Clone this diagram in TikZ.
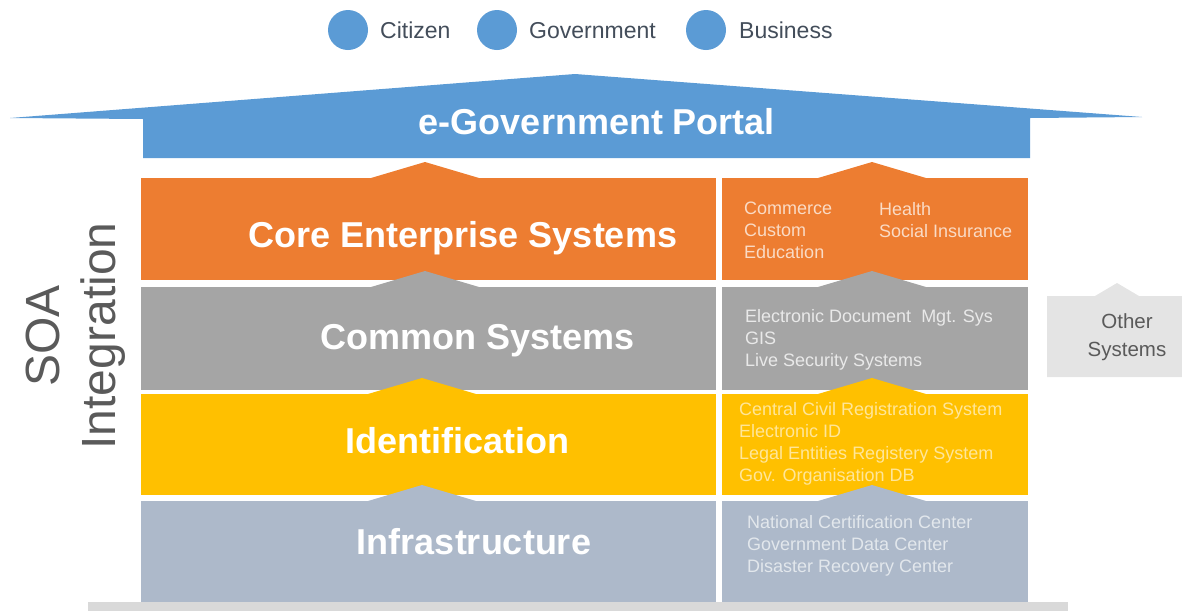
\documentclass[tikz,border=0pt]{standalone}
\usepackage{fontspec}
\setmainfont{Liberation Sans}
\usetikzlibrary{positioning,calc}
\definecolor{portalclr}{HTML}{5B9BD5}
\definecolor{coreclr}{HTML}{ED7D31}
\definecolor{commonclr}{HTML}{A5A5A5}
\definecolor{identclr}{HTML}{FFC000}
\definecolor{infraclr}{HTML}{ADB9CA}
\definecolor{barclr}{HTML}{D9D9D9}
\definecolor{otherclr}{HTML}{E4E4E4}
\definecolor{lblclr}{HTML}{434D5A}
\definecolor{soaclr}{HTML}{5A5A5A}

\begin{document}
\begin{tikzpicture}[x=1pt, y=-1pt,
  layer/.style={anchor=north west, inner sep=0pt, outer sep=0pt},
  bigtxt/.style={anchor=base, font=\fontsize{36}{40}\selectfont\bfseries, text=white},
  paneltxt/.style={anchor=north west, align=left, inner sep=0pt,
                   font=\fontsize{18}{22}\selectfont},
  actor/.style={circle, fill=portalclr, minimum size=40pt, inner sep=0pt},
  actlbl/.style={anchor=base west, inner sep=0pt,
                 font=\fontsize{23}{26}\selectfont, text=lblclr},
]
  \useasboundingbox (0,0) rectangle (1182,611);

  % Actors on top
  \node[actor] (cit) at (348,30) {};
  \node[actor] (gov) at (497,30) {};
  \node[actor] (bus) at (706,30) {};
  \node[actlbl] (citl) at (380,38) {Citizen};
  \node[actlbl] (govl) at (529,38) {Government};
  \node[actlbl] (busl) at (739,38) {Business};

  % Portal roof
  \fill[portalclr] (10,118) -- (575,74) -- (1142,117) -- (1030,118)
    -- (1030,158) -- (143,158) -- (143,119) -- cycle;
  \node[bigtxt] (portal) at (597,134) {e-Government Portal};

  % Core enterprise systems
  \node[layer, fill=coreclr, minimum width=575, minimum height=102] (coreL) at (141,178) {};
  \node[layer, fill=coreclr, minimum width=306, minimum height=102] (coreR) at (722,178) {};
  \fill[coreclr] (371,178) -- (425,162) -- (479,178) -- cycle;
  \fill[coreclr] (818,178) -- (872,162) -- (926,178) -- cycle;
  \node[bigtxt] (corel) at (463,247) {Core Enterprise Systems};
  \node[paneltxt, text=white!72!coreclr] (corep) at (744,202) {Commerce\\Custom\\Education};
  \node[paneltxt, text=white!72!coreclr] (corep2) at (879,202) {Health\\Social Insurance};

  % Common systems
  \node[layer, fill=commonclr, minimum width=575, minimum height=103] (comL) at (141,287) {};
  \node[layer, fill=commonclr, minimum width=306, minimum height=103] (comR) at (722,287) {};
  \fill[commonclr] (371,287) -- (425,271) -- (479,287) -- cycle;
  \fill[commonclr] (818,287) -- (872,271) -- (926,287) -- cycle;
  \node[bigtxt] (coml) at (478,349) {Common Systems};
  \node[paneltxt, text=white!75!commonclr] (comp) at (745,309)
    {Electronic Document~ Mgt. Sys\\GIS\\Live Security Systems};

  % Identification
  \node[layer, fill=identclr, minimum width=575, minimum height=101] (idL) at (141,394) {};
  \node[layer, fill=identclr, minimum width=306, minimum height=101] (idR) at (722,394) {};
  \fill[identclr] (368,394) -- (422,378) -- (476,394) -- cycle;
  \fill[identclr] (818,394) -- (872,378) -- (926,394) -- cycle;
  \node[bigtxt] (idl) at (457,453) {Identification};
  \node[paneltxt, text=white!60!identclr] (idp) at (739,402)
    {Central Civil Registration System\\Electronic ID\\Legal Entities Registery System\\Gov. Organisation DB};

  % Infrastructure
  \node[layer, fill=infraclr, minimum width=575, minimum height=101] (infL) at (141,501) {};
  \node[layer, fill=infraclr, minimum width=306, minimum height=101] (infR) at (722,501) {};
  \fill[infraclr] (368,501) -- (422,485) -- (476,501) -- cycle;
  \fill[infraclr] (818,501) -- (872,485) -- (926,501) -- cycle;
  \node[bigtxt] (infl) at (474,554) {Infrastructure};
  \node[paneltxt, text=white!65!infraclr] (infp) at (747,515)
    {National Certification Center\\Government Data Center\\Disaster Recovery Center};

  % Base bar
  \fill[barclr] (88,602) rectangle (1068,611);

  % Other systems
  \fill[otherclr] (1047,296) -- (1095,296) -- (1117,283) -- (1139,296)
    -- (1182,296) -- (1182,377) -- (1047,377) -- cycle;
  \node[align=center, text=soaclr, font=\fontsize{20.5}{28}\selectfont] (other) at (1127,337)
    {Other\\Systems};

  % SOA integration
  \node[rotate=90, align=center, text=soaclr, font=\fontsize{48}{56}\selectfont] (soa) at (76,336)
    {SOA\\Integration};
\end{tikzpicture}
\end{document}
